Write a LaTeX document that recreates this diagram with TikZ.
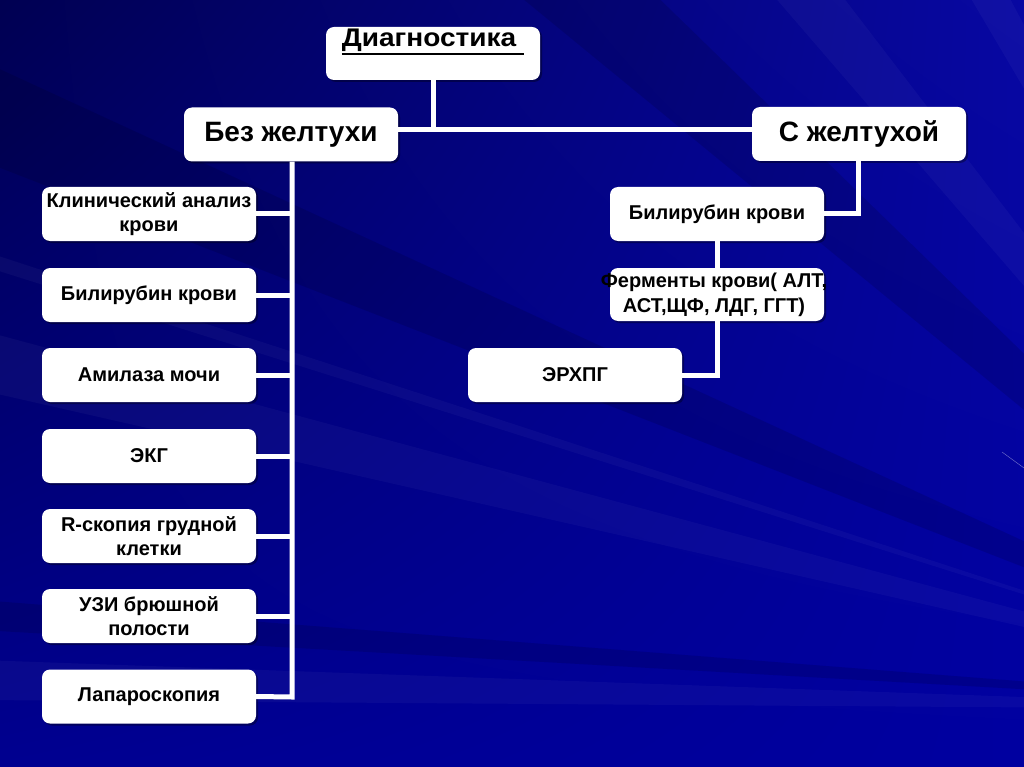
\documentclass[tikz,border=0pt]{standalone}
\usepackage{fontspec}
\setmainfont{Liberation Sans}
\usetikzlibrary{shadows,shadings}
\definecolor{bgA}{HTML}{000052}
\definecolor{bgB}{HTML}{0808A2}
\definecolor{bgC}{HTML}{000090}
\definecolor{bgD}{HTML}{0000A0}
\newcommand{\thickul}[1]{\setbox0\hbox{#1}\rlap{\rule[-8.5pt]{\wd0}{2.3pt}}\box0}
\begin{document}
\begin{tikzpicture}[x=1pt,y=-1pt,
  box/.style={fill=white, rounded corners=8pt, minimum width=214pt, minimum height=54pt,
    align=center, inner sep=1pt, font=\fontsize{20}{24.5}\selectfont\bfseries,
    drop shadow={shadow xshift=2pt, shadow yshift=-2pt, opacity=0.35, fill=black}},
  head/.style={box, font=\fontsize{28}{32}\selectfont\bfseries},
  conn/.style={draw=white, line width=5pt},
  lray/.style={fill=white, opacity=0.035},
  dray/.style={fill=black, opacity=0.12}]
% background
\shade[upper left=bgA, upper right=bgB, lower left=bgC, lower right=bgD] (0,0) rectangle (1024,767);
\begin{scope}
\clip (0,0) rectangle (1024,767);
\coordinate (P) at (1390,710);
\fill[dray] (P) -- (500,-20) -- (640,-20) -- cycle;
\fill[dray] (P) -- (-20,60) -- (-20,160) -- cycle;
\fill[dray] (P) -- (-20,600) -- (-20,630) -- cycle;
\fill[lray] (P) -- (760,-20) -- (830,-20) -- cycle;
\fill[lray] (P) -- (-20,330) -- (-20,390) -- cycle;
\fill[lray] (P) -- (-20,250) -- (-20,265) -- cycle;
\fill[lray] (P) -- (-20,660) -- (-20,700) -- cycle;
\fill[lray] (P) -- (960,-20) -- (1000,-20) -- cycle;
\draw[white, opacity=0.4, line width=0.5pt] (1002,452) -- (1024,468);
\end{scope}
% nodes
\node[box, minimum height=53pt] (diag) at (433,53.5) {};
\node[font=\fontsize{25.5}{30}\selectfont\bfseries, inner sep=0pt, anchor=base] (diagt) at (433,47) {\scalebox{1.1}[1]{\thickul{Диагностика\ }}};
\node[head] (bez) at (291,134.5) {Без желтухи};
\node[head] (sz) at (859,134) {С желтухой};
\node[box] (l1) at (149,214) {Клинический анализ\\крови};
\node[box] (l2) at (149,295) {Билирубин крови};
\node[box] (l3) at (149,375) {Амилаза мочи};
\node[box] (l4) at (149,456) {ЭКГ};
\node[box] (l5) at (149,536) {R-скопия грудной\\клетки};
\node[box] (l6) at (149,616) {УЗИ брюшной\\полости};
\node[box] (l7) at (149,696.5) {Лапароскопия};
\node[box] (r1) at (717,214) {Билирубин крови};
\node[box, minimum height=53pt] (r2) at (717,294.5) {};
\node[font=\fontsize{20}{24.5}\selectfont\bfseries, align=center, inner sep=0pt] (r2t) at (714,295) {Ферменты крови( АЛТ,\\АСТ,ЩФ, ЛДГ, ГГТ)};
\node[box] (r3) at (575,375) {ЭРХПГ};
% connectors
\coordinate (j0) at (433,130);
\draw[conn] (diag.south) -- (j0);
\draw[conn] (j0 -| bez.east) -- (j0 -| sz.west);
\coordinate (lb) at (292,697);
\draw[conn] (bez.south -| lb) -- (lb) -- (l7.east);
\foreach \n in {l1,l2,l3,l4,l5,l6} \draw[conn] (\n.east) -- (\n.east -| lb);
\coordinate (rb) at (858,214);
\draw[conn] (sz.south -| rb) -- (rb) -- (r1.east);
\draw[conn] (r1.south) -- (r2.north);
\coordinate (rc) at (717,375);
\draw[conn] (r2.south) -- (rc) -- (r3.east);
\end{tikzpicture}
\end{document}
